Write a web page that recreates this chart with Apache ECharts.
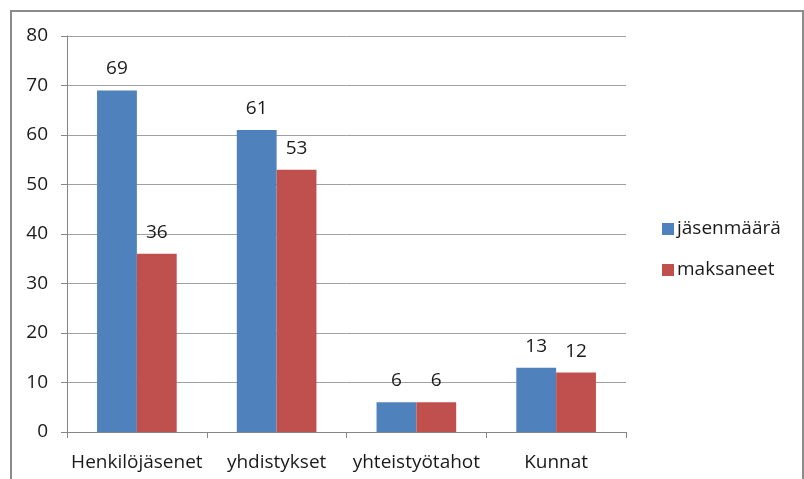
<!DOCTYPE html>
<html><head><meta charset="utf-8">
<script src="https://cdn.jsdelivr.net/npm/echarts@6/dist/echarts.min.js"></script>
<style>html,body{margin:0;padding:0;background:#fff}#c{width:804px;height:479px}</style>
</head><body><div id="c"></div>
<script>
const categories = ['Henkilöjäsenet', 'yhdistykset', 'yhteistyötahot', 'Kunnat'];
const jasenmaara = [69, 61, 6, 13];
const maksaneet = [36, 53, 6, 12];
const seriesNames = ['jäsenmäärä', 'maksaneet'];
const yTicks = {min: 0, max: 80, interval: 10};

const FONT = 'Open Sans';
const FS = 19;
const TXT = '#1a1a1a';
const chart = echarts.init(document.getElementById('c'), null, {renderer: 'canvas'});
chart.setOption({
  animation: false,
  backgroundColor: '#fff',
  textStyle: {fontFamily: FONT},
  graphic: [{type: 'rect', shape: {x: 11, y: 11, width: 792, height: 480},
    style: {fill: 'none', stroke: '#8c8c8c', lineWidth: 2}, silent: true, z: -1}],
  grid: {left: 67, top: 36, right: 178, bottom: 47},
  legend: {
    orient: 'vertical', left: 662, top: 219, itemWidth: 12, itemHeight: 12, itemGap: 21,
    icon: 'rect', padding: 0,
    textStyle: {fontFamily: FONT, fontSize: FS, lineHeight: 20, color: TXT, padding: [0,0,0,-2]},
    data: seriesNames
  },
  xAxis: {
    type: 'category', data: categories,
    axisLine: {lineStyle: {color: '#868686', width: 1}},
    axisTick: {show: true, length: 6, alignWithLabel: false, lineStyle: {color: '#868686'}},
    axisLabel: {fontFamily: FONT, fontSize: FS, color: TXT, margin: 21, interval: 0}
  },
  yAxis: {
    type: 'value', min: yTicks.min, max: yTicks.max, interval: yTicks.interval,
    axisLine: {show: true, lineStyle: {color: '#868686', width: 1}},
    axisTick: {show: true, length: 6, lineStyle: {color: '#868686'}},
    axisLabel: {fontFamily: FONT, fontSize: FS, color: TXT, margin: 19},
    splitLine: {lineStyle: {color: '#a0a0a0', width: 1}}
  },
  series: [
    {name: seriesNames[0], type: 'bar', data: jasenmaara, barGap: '0%', barCategoryGap: '43%',
     itemStyle: {color: '#4F81BD'},
     label: {show: true, position: 'top', distance: 12, fontFamily: FONT, fontSize: FS, color: TXT}},
    {name: seriesNames[1], type: 'bar', data: maksaneet,
     itemStyle: {color: '#C0504D'},
     label: {show: true, position: 'top', distance: 12, fontFamily: FONT, fontSize: FS, color: TXT}}
  ]
});
</script></body></html>
